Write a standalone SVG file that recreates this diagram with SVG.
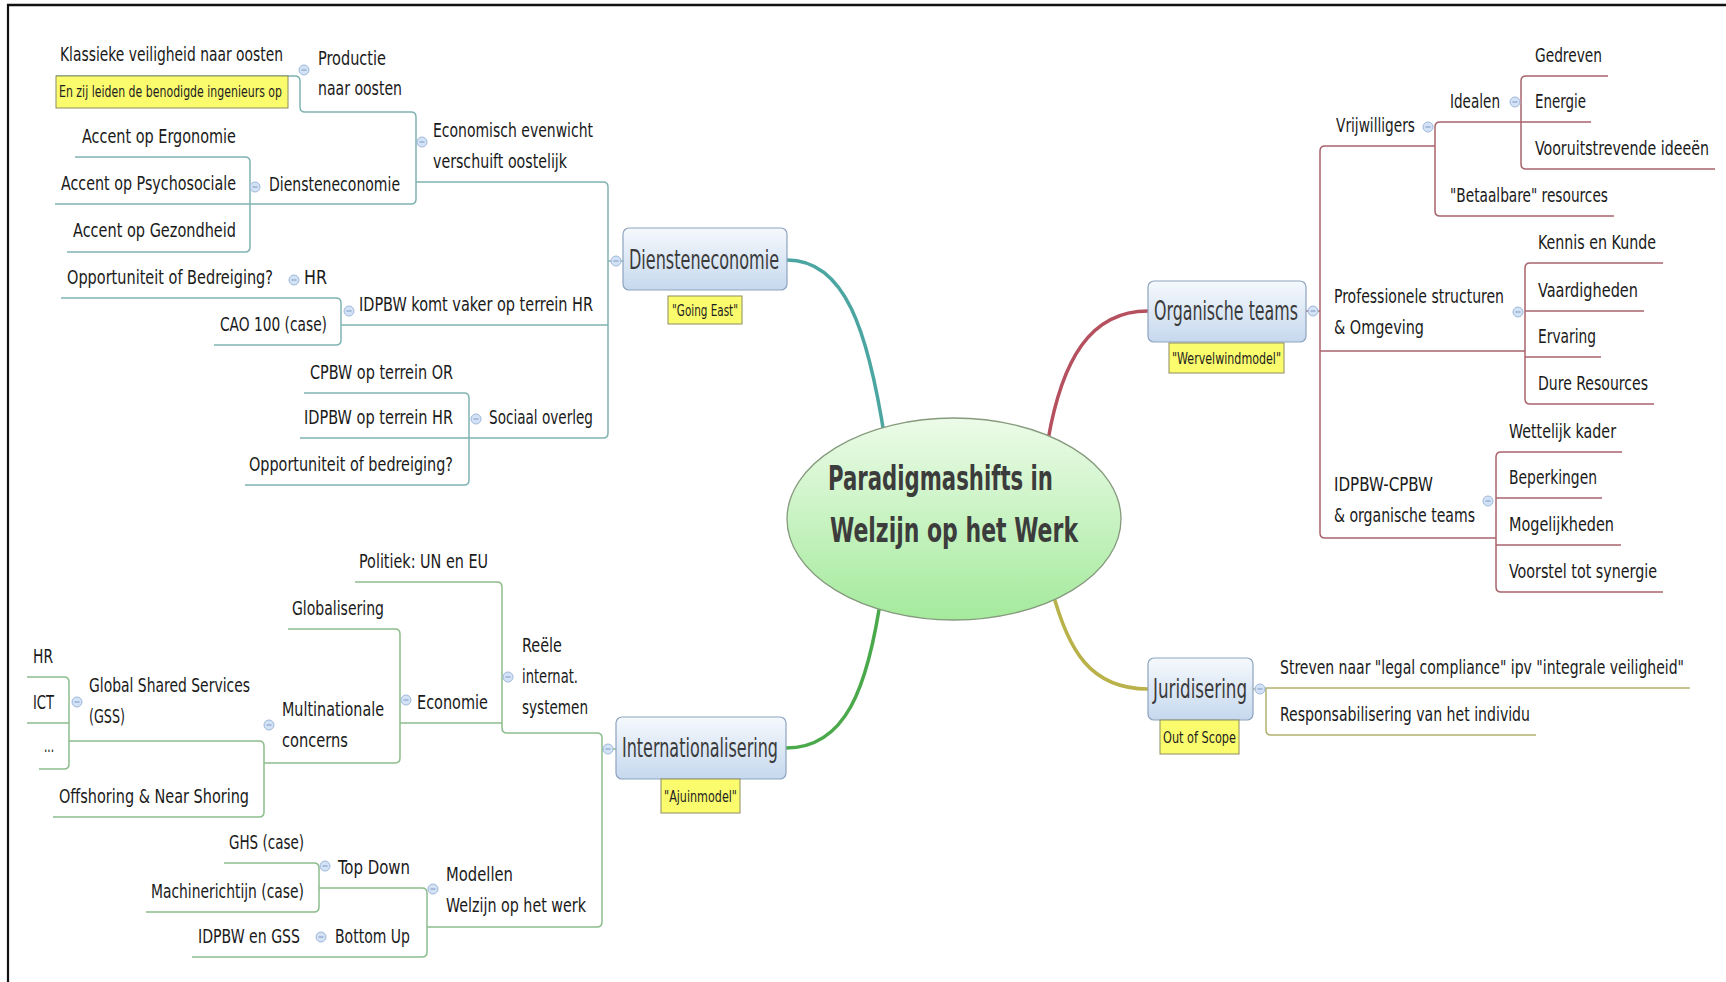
<svg xmlns="http://www.w3.org/2000/svg" xmlns:xlink="http://www.w3.org/1999/xlink" width="1726" height="982" viewBox="0 0 1726 982">
<style>
text{font-family:"Liberation Sans Narrow","DejaVu Sans Condensed","Liberation Sans",sans-serif;}
.t{font-size:20px;fill:#1a1a1a;}
.mt{font-size:26px;fill:#3a3a3a;}
.lb{font-size:15.5px;fill:#1e1e1e;}
.ttl{font-size:33px;font-weight:bold;fill:#3c3c3c;}
.box{fill:url(#gbox);stroke:#8ea3be;stroke-width:1.2;}
.lab{fill:#fbfb6e;stroke:#8d8d62;stroke-width:1;}
.ln{fill:none;stroke-width:1.5;}
.lt{stroke:#80b3b1;}
.lr{stroke:#a9636c;}
.lg{stroke:#8dbd8d;}
.ly{stroke:#b2b26e;}
.main{fill:none;stroke-width:3.5;}
</style>
<defs>
<linearGradient id="gbox" x1="0" y1="0" x2="0" y2="1">
<stop offset="0" stop-color="#f5f9fd"/>
<stop offset="1" stop-color="#c6d8ee"/>
</linearGradient>
<linearGradient id="gell" x1="0" y1="0" x2="0" y2="1">
<stop offset="0" stop-color="#ecfbe8"/>
<stop offset="1" stop-color="#a4ea9c"/>
</linearGradient>
<g id="cc">
<circle r="5" fill="#d3e2f5" stroke="#9fb8dc" stroke-width="1"/>
<line x1="-2.5" y1="0" x2="2.5" y2="0" stroke="#7c98c4" stroke-width="1"/>
</g>
</defs>
<rect x="0" y="0" width="1726" height="982" fill="#ffffff"/>
<g id="frame">
<line x1="7" y1="5" x2="1726" y2="5" stroke="#111" stroke-width="2.5"/>
<line x1="8" y1="4" x2="8" y2="982" stroke="#111" stroke-width="2.2"/>
</g>

<g id="connectors">
<path class="main" stroke="#4ba6a2" d="M787,260 C845,260 868,330 885,440"/>
<path class="main" stroke="#b5505e" d="M1148,311 C1090,311 1062,360 1048,440"/>
<path class="main" stroke="#b9b149" d="M1148,689 C1090,689 1068,650 1052,590"/>
<path class="main" stroke="#4aa94a" d="M786,748 C845,748 868,690 882,590"/>

<path class="ln lt" d="M416,182 H603 Q608,182 608,187 V433 Q608,438 603,438 H300"/>
<path class="ln lt" d="M608,261 H623"/>
<path class="ln lt" d="M56,76 H295 Q300,76 300,81 V107 Q300,112 305,112 H411 Q416,112 416,117 V199 Q416,204 411,204 H55"/>
<path class="ln lt" d="M75,157 H245 Q250,157 250,162 V247 Q250,252 245,252 H67"/>
<path class="ln lt" d="M61,298 H336 Q341,298 341,303 V340 Q341,345 336,345 H214"/>
<path class="ln lt" d="M341,325 H608"/>
<path class="ln lt" d="M304,393 H464 Q469,393 469,398 V480 Q469,485 464,485 H245"/>

<path class="ln lr" d="M1306,311 H1320"/>
<path class="ln lr" d="M1435,146 H1325 Q1320,146 1320,151 V533 Q1320,538 1325,538 H1496"/>
<path class="ln lr" d="M1591,122 H1440 Q1435,122 1435,127 V211 Q1435,216 1440,216 H1614"/>
<path class="ln lr" d="M1608,76 H1526 Q1521,76 1521,81 V164 Q1521,169 1526,169 H1715"/>
<path class="ln lr" d="M1663,263 H1530 Q1525,263 1525,268 V399 Q1525,404 1530,404 H1654"/>
<path class="ln lr" d="M1525,311 H1644 M1525,357 H1601 M1320,351 H1525"/>
<path class="ln lr" d="M1622,452 H1501 Q1496,452 1496,457 V587 Q1496,592 1501,592 H1663"/>
<path class="ln lr" d="M1496,498 H1602 M1496,545 H1621"/>

<path class="ln ly" d="M1253,689 H1266"/>
<path class="ln ly" d="M1690,688 H1266 V730 Q1266,735 1271,735 H1536"/>

<path class="ln lg" d="M602,749 H616"/>
<path class="ln lg" d="M355,582 H497 Q502,582 502,587 V728 Q502,733 507,733 H597 Q602,733 602,738 V922 Q602,927 597,927 H427"/>
<path class="ln lg" d="M400,723 H502"/>
<path class="ln lg" d="M288,629 H395 Q400,629 400,634 V758 Q400,763 395,763 H264"/>
<path class="ln lg" d="M69,741 H259 Q264,741 264,746 V812 Q264,817 259,817 H53"/>
<path class="ln lg" d="M27,677 H64 Q69,677 69,682 V764 Q69,769 64,769 H39 M27,723 H69"/>
<path class="ln lg" d="M319,888 H422 Q427,888 427,893 V952 Q427,957 422,957 H192"/>
<path class="ln lg" d="M224,863 H314 Q319,863 319,868 V907 Q319,912 314,912 H146"/>
</g>

<g id="center">
<ellipse cx="954" cy="519" rx="167" ry="101" fill="url(#gell)" stroke="#869a7e" stroke-width="1.3"/>
<text class="ttl" x="828" y="490" textLength="225" lengthAdjust="spacingAndGlyphs">Paradigmashifts in</text>
<text class="ttl" x="830" y="542" textLength="248" lengthAdjust="spacingAndGlyphs">Welzijn op het Werk</text>
</g>

<g id="diensteneconomie">
<rect class="box" x="623" y="228" width="164" height="62" rx="6"/>
<text class="mt" x="629" y="269" textLength="150" lengthAdjust="spacingAndGlyphs">Diensteneconomie</text>
<rect class="lab" x="668" y="296" width="74" height="28"/>
<text class="lb" x="672" y="316" textLength="66" lengthAdjust="spacingAndGlyphs">"Going East"</text>
<use href="#cc" x="616" y="261"/>
</g>
<g id="economisch">
<text class="t" x="433" y="137" textLength="160" lengthAdjust="spacingAndGlyphs">Economisch evenwicht</text>
<text class="t" x="433" y="168" textLength="134" lengthAdjust="spacingAndGlyphs">verschuift oostelijk</text>
<use href="#cc" x="422" y="142"/>
</g>
<g id="productie">
<text class="t" x="318" y="65" textLength="68" lengthAdjust="spacingAndGlyphs">Productie</text>
<text class="t" x="318" y="95" textLength="84" lengthAdjust="spacingAndGlyphs">naar oosten</text>
<use href="#cc" x="304" y="70"/>
</g>
<g id="klassieke">
<text class="t" x="60" y="61" textLength="223" lengthAdjust="spacingAndGlyphs">Klassieke veiligheid naar oosten</text>
<rect class="lab" x="56" y="76" width="232" height="32"/>
<text class="lb" x="59" y="97" textLength="223" lengthAdjust="spacingAndGlyphs">En zij leiden de benodigde ingenieurs op</text>
</g>
<g id="diensteneconomie-sub">
<text class="t" x="269" y="191" textLength="131" lengthAdjust="spacingAndGlyphs">Diensteneconomie</text>
<use href="#cc" x="255" y="187"/>
</g>
<g id="ergonomie"><text class="t" x="82" y="143" textLength="154" lengthAdjust="spacingAndGlyphs">Accent op Ergonomie</text></g>
<g id="psychosociale"><text class="t" x="61" y="190" textLength="175" lengthAdjust="spacingAndGlyphs">Accent op Psychosociale</text></g>
<g id="gezondheid"><text class="t" x="73" y="237" textLength="163" lengthAdjust="spacingAndGlyphs">Accent op Gezondheid</text></g>
<g id="idpbw-komt">
<text class="t" x="359" y="311" textLength="234" lengthAdjust="spacingAndGlyphs">IDPBW komt vaker op terrein HR</text>
<use href="#cc" x="349" y="311"/>
</g>
<g id="hr1">
<text class="t" x="304" y="284" textLength="23" lengthAdjust="spacingAndGlyphs">HR</text>
<use href="#cc" x="294" y="280"/>
</g>
<g id="opport1"><text class="t" x="67" y="284" textLength="206" lengthAdjust="spacingAndGlyphs">Opportuniteit of Bedreiging?</text></g>
<g id="cao"><text class="t" x="220" y="331" textLength="107" lengthAdjust="spacingAndGlyphs">CAO 100 (case)</text></g>
<g id="sociaal">
<text class="t" x="489" y="424" textLength="104" lengthAdjust="spacingAndGlyphs">Sociaal overleg</text>
<use href="#cc" x="476" y="419"/>
</g>
<g id="cpbw-or"><text class="t" x="310" y="379" textLength="143" lengthAdjust="spacingAndGlyphs">CPBW op terrein OR</text></g>
<g id="idpbw-hr"><text class="t" x="304" y="424" textLength="149" lengthAdjust="spacingAndGlyphs">IDPBW op terrein HR</text></g>
<g id="opport2"><text class="t" x="249" y="471" textLength="204" lengthAdjust="spacingAndGlyphs">Opportuniteit of bedreiging?</text></g>

<g id="organische">
<rect class="box" x="1148" y="281" width="158" height="61" rx="6"/>
<text class="mt" x="1154" y="320" textLength="144" lengthAdjust="spacingAndGlyphs">Organische teams</text>
<rect class="lab" x="1169" y="343" width="115" height="30"/>
<text class="lb" x="1172" y="364" textLength="109" lengthAdjust="spacingAndGlyphs">"Wervelwindmodel"</text>
<use href="#cc" x="1313" y="311"/>
</g>
<g id="vrijwilligers">
<text class="t" x="1336" y="132" textLength="79" lengthAdjust="spacingAndGlyphs">Vrijwilligers</text>
<use href="#cc" x="1428" y="127"/>
</g>
<g id="idealen">
<text class="t" x="1450" y="108" textLength="50" lengthAdjust="spacingAndGlyphs">Idealen</text>
<use href="#cc" x="1515" y="102"/>
</g>
<g id="gedreven"><text class="t" x="1535" y="62" textLength="67" lengthAdjust="spacingAndGlyphs">Gedreven</text></g>
<g id="energie"><text class="t" x="1535" y="108" textLength="51" lengthAdjust="spacingAndGlyphs">Energie</text></g>
<g id="vooruit"><text class="t" x="1535" y="155" textLength="174" lengthAdjust="spacingAndGlyphs">Vooruitstrevende ideeën</text></g>
<g id="betaalbaar"><text class="t" x="1450" y="202" textLength="158" lengthAdjust="spacingAndGlyphs">"Betaalbare" resources</text></g>
<g id="professionele">
<text class="t" x="1334" y="303" textLength="170" lengthAdjust="spacingAndGlyphs">Professionele structuren</text>
<text class="t" x="1334" y="334" textLength="90" lengthAdjust="spacingAndGlyphs">&amp; Omgeving</text>
<use href="#cc" x="1518" y="312"/>
</g>
<g id="kennis"><text class="t" x="1538" y="249" textLength="118" lengthAdjust="spacingAndGlyphs">Kennis en Kunde</text></g>
<g id="vaardigheden"><text class="t" x="1538" y="297" textLength="100" lengthAdjust="spacingAndGlyphs">Vaardigheden</text></g>
<g id="ervaring"><text class="t" x="1538" y="343" textLength="58" lengthAdjust="spacingAndGlyphs">Ervaring</text></g>
<g id="dure"><text class="t" x="1538" y="390" textLength="110" lengthAdjust="spacingAndGlyphs">Dure Resources</text></g>
<g id="idpbw-cpbw">
<text class="t" x="1334" y="491" textLength="99" lengthAdjust="spacingAndGlyphs">IDPBW-CPBW</text>
<text class="t" x="1334" y="522" textLength="141" lengthAdjust="spacingAndGlyphs">&amp; organische teams</text>
<use href="#cc" x="1488" y="501"/>
</g>
<g id="wettelijk"><text class="t" x="1509" y="438" textLength="107" lengthAdjust="spacingAndGlyphs">Wettelijk kader</text></g>
<g id="beperkingen"><text class="t" x="1509" y="484" textLength="88" lengthAdjust="spacingAndGlyphs">Beperkingen</text></g>
<g id="mogelijkheden"><text class="t" x="1509" y="531" textLength="105" lengthAdjust="spacingAndGlyphs">Mogelijkheden</text></g>
<g id="voorstel"><text class="t" x="1509" y="578" textLength="148" lengthAdjust="spacingAndGlyphs">Voorstel tot synergie</text></g>

<g id="juridisering">
<rect class="box" x="1148" y="658" width="105" height="62" rx="6"/>
<text class="mt" x="1153" y="698" textLength="94" lengthAdjust="spacingAndGlyphs">Juridisering</text>
<rect class="lab" x="1160" y="720" width="79" height="34"/>
<text class="lb" x="1163" y="743" textLength="73" lengthAdjust="spacingAndGlyphs">Out of Scope</text>
<use href="#cc" x="1260" y="689"/>
</g>
<g id="streven"><text class="t" x="1280" y="674" textLength="404" lengthAdjust="spacingAndGlyphs">Streven naar "legal compliance" ipv "integrale veiligheid"</text></g>
<g id="responsabilisering"><text class="t" x="1280" y="721" textLength="250" lengthAdjust="spacingAndGlyphs">Responsabilisering van het individu</text></g>

<g id="internationalisering">
<rect class="box" x="616" y="717" width="170" height="62" rx="6"/>
<text class="mt" x="622" y="757" textLength="156" lengthAdjust="spacingAndGlyphs">Internationalisering</text>
<rect class="lab" x="661" y="779" width="79" height="34"/>
<text class="lb" x="664" y="802" textLength="73" lengthAdjust="spacingAndGlyphs">"Ajuinmodel"</text>
<use href="#cc" x="608" y="749"/>
</g>
<g id="reele">
<text class="t" x="522" y="652" textLength="40" lengthAdjust="spacingAndGlyphs">Reële</text>
<text class="t" x="522" y="683" textLength="56" lengthAdjust="spacingAndGlyphs">internat.</text>
<text class="t" x="522" y="714" textLength="66" lengthAdjust="spacingAndGlyphs">systemen</text>
<use href="#cc" x="508" y="677"/>
</g>
<g id="politiek"><text class="t" x="359" y="568" textLength="129" lengthAdjust="spacingAndGlyphs">Politiek: UN en EU</text></g>
<g id="economie">
<text class="t" x="417" y="709" textLength="71" lengthAdjust="spacingAndGlyphs">Economie</text>
<use href="#cc" x="406" y="700"/>
</g>
<g id="globalisering"><text class="t" x="292" y="615" textLength="92" lengthAdjust="spacingAndGlyphs">Globalisering</text></g>
<g id="multinationale">
<text class="t" x="282" y="716" textLength="102" lengthAdjust="spacingAndGlyphs">Multinationale</text>
<text class="t" x="282" y="747" textLength="66" lengthAdjust="spacingAndGlyphs">concerns</text>
<use href="#cc" x="269" y="725"/>
</g>
<g id="gss">
<text class="t" x="89" y="692" textLength="161" lengthAdjust="spacingAndGlyphs">Global Shared Services</text>
<text class="t" x="89" y="723" textLength="36" lengthAdjust="spacingAndGlyphs">(GSS)</text>
<use href="#cc" x="77" y="702"/>
</g>
<g id="hr2"><text class="t" x="33" y="663" textLength="20" lengthAdjust="spacingAndGlyphs">HR</text></g>
<g id="ict"><text class="t" x="33" y="709" textLength="21" lengthAdjust="spacingAndGlyphs">ICT</text></g>
<g id="dots"><text class="t" x="44" y="752" textLength="10" lengthAdjust="spacingAndGlyphs">...</text></g>
<g id="offshoring"><text class="t" x="59" y="803" textLength="190" lengthAdjust="spacingAndGlyphs">Offshoring &amp; Near Shoring</text></g>
<g id="modellen">
<text class="t" x="446" y="881" textLength="67" lengthAdjust="spacingAndGlyphs">Modellen</text>
<text class="t" x="446" y="912" textLength="140" lengthAdjust="spacingAndGlyphs">Welzijn op het werk</text>
<use href="#cc" x="433" y="889"/>
</g>
<g id="topdown">
<text class="t" x="338" y="874" textLength="72" lengthAdjust="spacingAndGlyphs">Top Down</text>
<use href="#cc" x="325" y="866"/>
</g>
<g id="ghs"><text class="t" x="229" y="849" textLength="75" lengthAdjust="spacingAndGlyphs">GHS (case)</text></g>
<g id="machine"><text class="t" x="151" y="898" textLength="153" lengthAdjust="spacingAndGlyphs">Machinerichtijn (case)</text></g>
<g id="bottomup">
<text class="t" x="335" y="943" textLength="75" lengthAdjust="spacingAndGlyphs">Bottom Up</text>
<use href="#cc" x="321" y="937"/>
</g>
<g id="idpbw-gss"><text class="t" x="198" y="943" textLength="102" lengthAdjust="spacingAndGlyphs">IDPBW en GSS</text></g>
</svg>
